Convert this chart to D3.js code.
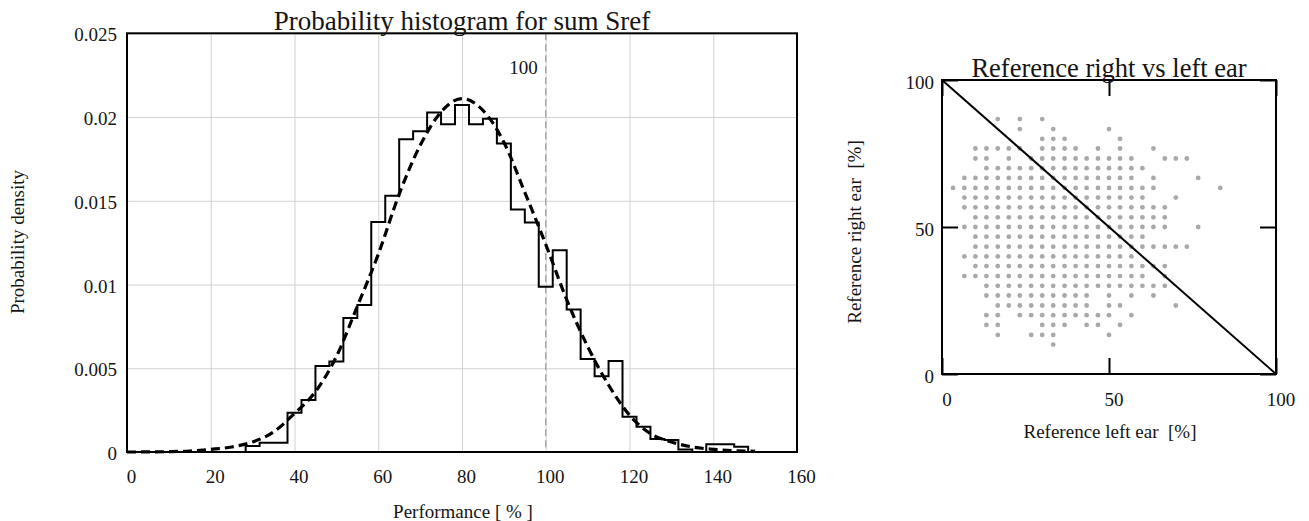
<!DOCTYPE html>
<html>
<head>
<meta charset="utf-8">
<script src="https://cdn.jsdelivr.net/npm/d3@7"></script>
<style>
  html, body { margin: 0; padding: 0; background: #fff; }
  svg { display: block; }
  text { font-family: "Liberation Serif", "Times New Roman", serif; fill: #151515; white-space: pre; }
</style>
</head>
<body>
<svg id="chart" width="1309" height="521"></svg>
<script>
// ---- Histogram of the summed reference score ----
const binWidth = 3.333;
const binStart = [28.33, 31.67, 35, 38.33, 41.67, 45, 48.33, 51.67, 55, 58.33,
  61.67, 65, 68.33, 71.67, 75, 78.33, 81.67, 85, 88.33, 91.67,
  95, 98.33, 101.67, 105, 108.33, 111.67, 115, 118.33, 121.67, 125,
  128.33, 131.67, 135, 138.33, 141.67, 145];
const binDensity = [0.00036, 0.00055, 0.00055, 0.00235, 0.0031, 0.00513, 0.0054, 0.0080, 0.00877, 0.01374,
  0.0153, 0.01868, 0.01915, 0.02027, 0.01957, 0.02072, 0.01957, 0.0199, 0.01842, 0.01448,
  0.0137, 0.00986, 0.01205, 0.00851, 0.00555, 0.00453, 0.00543, 0.0021, 0.00151, 0.00078,
  0.00072, 0.00015, 0, 0.00046, 0.00046, 0.00032];

// fitted density (dashed curve)
const fitX = [0, 5, 10, 15, 20, 25, 30, 35, 40, 45, 50, 55, 60, 65, 70, 75, 80,
  85, 90, 95, 100, 105, 110, 115, 120, 125, 130, 135, 140, 145, 150];
const fitY = [0, 0.000005, 0.00002, 0.00006, 0.00016, 0.0003, 0.0006, 0.0012, 0.0023, 0.0036, 0.0057,
  0.0087, 0.0118, 0.0154, 0.0183, 0.0203, 0.0211, 0.0204, 0.0185, 0.0155, 0.0124,
  0.0091, 0.0063, 0.0040, 0.0022, 0.0011, 0.0006, 0.0003, 0.00016, 0.00008, 0.00004];

const histXTicks = [0, 20, 40, 60, 80, 100, 120, 140, 160];
const histYTicks = [0, 0.005, 0.01, 0.015, 0.02, 0.025];
const histYLabels = ["0", "0.005", "0.01", "0.015", "0.02", "0.025"];
const markerValue = 100;

// ---- Reference right ear vs left ear (one row per right-ear level) ----
const rightEarLevels = [86.7, 83.3, 80, 76.7, 73.3, 70, 66.7, 63.3, 60, 56.7, 53.3, 50,
  46.7, 43.3, 40, 36.7, 33.3, 30, 26.7, 23.3, 20, 16.7, 13.3, 10];
const leftEarByLevel = [
  [16.7, 23.3, 30],
  [23.3, 33.3, 50],
  [30, 33.3, 36.7, 53.3],
  [10, 13.3, 16.7, 20, 23.3, 30, 33.3, 36.7, 40, 46.7, 53.3, 63.3],
  [10, 13.3, 20, 26.7, 30, 33.3, 36.7, 40, 43.3, 46.7, 50, 53.3, 56.7, 66.7, 70, 73.3],
  [13.3, 16.7, 20, 23.3, 26.7, 30, 33.3, 36.7, 40, 43.3, 46.7, 50, 53.3, 56.7, 60],
  [6.7, 10, 13.3, 16.7, 20, 23.3, 26.7, 30, 33.3, 36.7, 40, 43.3, 46.7, 50, 53.3, 56.7, 63.3, 76.7],
  [3.3, 6.7, 10, 13.3, 16.7, 20, 23.3, 26.7, 30, 33.3, 36.7, 40, 43.3, 46.7, 50, 53.3, 56.7, 60, 63.3, 83.3],
  [6.7, 10, 13.3, 16.7, 20, 23.3, 26.7, 30, 33.3, 36.7, 40, 43.3, 46.7, 50, 53.3, 56.7, 60, 70],
  [6.7, 10, 13.3, 16.7, 20, 23.3, 26.7, 30, 33.3, 36.7, 40, 43.3, 46.7, 50, 53.3, 56.7, 60, 63.3, 66.7],
  [10, 13.3, 16.7, 20, 23.3, 26.7, 30, 33.3, 36.7, 40, 43.3, 46.7, 50, 53.3, 56.7, 60, 63.3, 66.7],
  [6.7, 10, 13.3, 16.7, 20, 23.3, 26.7, 30, 33.3, 36.7, 40, 43.3, 46.7, 50, 53.3, 56.7, 60, 63.3, 66.7, 76.7],
  [10, 13.3, 16.7, 20, 23.3, 26.7, 30, 33.3, 36.7, 40, 43.3, 46.7, 50, 53.3, 56.7, 60],
  [10, 13.3, 16.7, 20, 23.3, 26.7, 30, 33.3, 36.7, 40, 43.3, 46.7, 50, 53.3, 56.7, 60, 63.3, 66.7, 70, 73.3],
  [6.7, 10, 13.3, 16.7, 20, 23.3, 26.7, 30, 33.3, 36.7, 40, 43.3, 46.7, 50, 53.3, 56.7],
  [10, 13.3, 16.7, 20, 23.3, 26.7, 30, 33.3, 36.7, 40, 43.3, 46.7, 50, 53.3, 56.7, 60, 63.3, 66.7],
  [6.7, 10, 13.3, 16.7, 20, 23.3, 26.7, 30, 33.3, 36.7, 40, 43.3, 46.7, 50, 53.3, 56.7, 60, 66.7],
  [13.3, 16.7, 20, 23.3, 26.7, 30, 33.3, 36.7, 40, 43.3, 46.7, 50, 53.3, 56.7, 60, 63.3, 66.7],
  [13.3, 16.7, 20, 23.3, 26.7, 30, 33.3, 36.7, 40, 43.3, 50, 56.7, 63.3],
  [16.7, 20, 23.3, 26.7, 30, 33.3, 36.7, 40, 43.3, 50, 53.3, 70],
  [13.3, 16.7, 23.3, 26.7, 30, 33.3, 36.7, 40, 43.3, 46.7, 50, 56.7],
  [13.3, 16.7, 30, 33.3, 36.7, 43.3, 46.7, 53.3],
  [16.7, 26.7, 30, 33.3, 50],
  [33.3]
];
const earTicks = [0, 50, 100];
const diagonalLeft = [0, 100];
const diagonalRight = [100, 0];

const svg = d3.select("#chart");
svg.append("rect").attr("width", 1309).attr("height", 521).attr("fill", "#fff");

// ================= Left panel: histogram =================
const hx = d3.scaleLinear().domain([0, 160]).range([127, 797]);
const hy = d3.scaleLinear().domain([0, 0.025]).range([452, 33.3]);
const left = svg.append("g");

// grid
left.append("g")
  .attr("transform", `translate(0,${hy(0)})`)
  .call(d3.axisBottom(hx).tickValues(histXTicks).tickSize(-(hy(0) - hy(0.025))).tickFormat(""))
  .call(g => g.select(".domain").remove())
  .call(g => g.selectAll("line").attr("stroke", "#d2d2d2").attr("stroke-width", 1));
left.append("g")
  .attr("transform", `translate(${hx(0)},0)`)
  .call(d3.axisLeft(hy).tickValues(histYTicks).tickSize(-(hx(160) - hx(0))).tickFormat(""))
  .call(g => g.select(".domain").remove())
  .call(g => g.selectAll("line").attr("stroke", "#d2d2d2").attr("stroke-width", 1));

// marker line at 100 %
left.append("line")
  .attr("x1", hx(markerValue)).attr("x2", hx(markerValue))
  .attr("y1", hy(0.025)).attr("y2", hy(0))
  .attr("stroke", "#9a9a9a").attr("stroke-width", 1.2).attr("stroke-dasharray", "7,4");
left.append("text")
  .attr("x", hx(markerValue) - 8).attr("y", 74)
  .attr("text-anchor", "end").attr("font-size", 19)
  .text(String(markerValue));

// histogram as a step outline
const stepPts = [[0, 0]];
binStart.forEach((s, i) => stepPts.push([s, binDensity[i]]));
stepPts.push([binStart[binStart.length - 1] + binWidth, 0]);
left.append("path")
  .attr("d", d3.line().x(d => hx(d[0])).y(d => hy(d[1])).curve(d3.curveStepAfter)(stepPts))
  .attr("fill", "none").attr("stroke", "#000").attr("stroke-width", 2);

// fitted density
left.append("path")
  .attr("d", d3.line().x((d, i) => hx(fitX[i])).y(d => hy(d)).curve(d3.curveMonotoneX)(fitY))
  .attr("fill", "none").attr("stroke", "#000").attr("stroke-width", 3.2)
  .attr("stroke-dasharray", "9,5");

// frame
left.append("rect")
  .attr("x", hx(0)).attr("y", hy(0.025))
  .attr("width", hx(160) - hx(0)).attr("height", hy(0) - hy(0.025))
  .attr("fill", "none").attr("stroke", "#000").attr("stroke-width", 2);

// tick labels
left.append("g")
  .attr("transform", `translate(4,${hy(0)})`)
  .call(d3.axisBottom(hx).tickValues(histXTicks).tickSize(0).tickPadding(18))
  .call(g => g.select(".domain").remove())
  .call(g => g.selectAll("text").attr("font-size", 19).style("font-family", "Liberation Serif").attr("fill", "#151515"));
left.append("g")
  .attr("transform", `translate(${hx(0)},1.5)`)
  .call(d3.axisLeft(hy).tickValues(histYTicks).tickSize(0).tickPadding(10)
    .tickFormat((d, i) => histYLabels[i]))
  .call(g => g.select(".domain").remove())
  .call(g => g.selectAll("text").attr("font-size", 19).style("font-family", "Liberation Serif").attr("fill", "#151515"));

left.append("text")
  .attr("x", (hx(0) + hx(160)) / 2).attr("y", 30)
  .attr("text-anchor", "middle").attr("font-size", 27)
  .text("Probability histogram for sum Sref");
left.append("text")
  .attr("x", 463).attr("y", 518)
  .attr("text-anchor", "middle").attr("font-size", 19)
  .text("Performance [ % ]");
left.append("text")
  .attr("transform", "translate(24,242) rotate(-90)")
  .attr("text-anchor", "middle").attr("font-size", 19)
  .text("Probability density");

// ================= Right panel: scatter =================
const sx = d3.scaleLinear().domain([0, 100]).range([942, 1276]);
const sy = d3.scaleLinear().domain([0, 100]).range([374, 80]);
const right = svg.append("g");

const earPoints = [];
rightEarLevels.forEach((r, i) => leftEarByLevel[i].forEach(l => earPoints.push([l, r])));
right.append("g").selectAll("circle")
  .data(earPoints).join("circle")
  .attr("cx", d => sx(d[0])).attr("cy", d => sy(d[1]))
  .attr("r", 2.4).attr("fill", "#a9a9a9");

right.append("line")
  .attr("x1", sx(diagonalLeft[0])).attr("y1", sy(diagonalLeft[1]))
  .attr("x2", sx(diagonalRight[0])).attr("y2", sy(diagonalRight[1]))
  .attr("stroke", "#000").attr("stroke-width", 2);

// inward ticks on all four sides
const tickStyle = g => {
  g.select(".domain").remove();
  g.selectAll("line").attr("stroke", "#000").attr("stroke-width", 2);
  g.selectAll("text").attr("font-size", 19).style("font-family", "Liberation Serif").attr("fill", "#151515");
};
right.append("g").attr("transform", `translate(4.5,${sy(0)})`)
  .call(d3.axisBottom(sx).tickValues(earTicks).tickSize(0).tickPadding(19)).call(tickStyle);
right.append("g").attr("transform", `translate(0,${sy(0)})`)
  .call(d3.axisBottom(sx).tickValues(earTicks).tickSize(-16).tickFormat("")).call(tickStyle);
right.append("g").attr("transform", `translate(0,${sy(100)})`)
  .call(d3.axisTop(sx).tickValues(earTicks).tickSize(-16).tickFormat("")).call(tickStyle);
right.append("g").attr("transform", `translate(${sx(0)},2.5)`)
  .call(d3.axisLeft(sy).tickValues(earTicks).tickSize(0).tickPadding(8)).call(tickStyle);
right.append("g").attr("transform", `translate(${sx(0)},0)`)
  .call(d3.axisLeft(sy).tickValues(earTicks).tickSize(-16).tickFormat("")).call(tickStyle);
right.append("g").attr("transform", `translate(${sx(100)},0)`)
  .call(d3.axisRight(sy).tickValues(earTicks).tickSize(-16).tickFormat("")).call(tickStyle);

right.append("rect")
  .attr("x", sx(0)).attr("y", sy(100))
  .attr("width", sx(100) - sx(0)).attr("height", sy(0) - sy(100))
  .attr("fill", "none").attr("stroke", "#000").attr("stroke-width", 2);

right.append("text")
  .attr("x", (sx(0) + sx(100)) / 2).attr("y", 77)
  .attr("text-anchor", "middle").attr("font-size", 26.5)
  .text("Reference right vs left ear");
right.append("text")
  .attr("x", 1110).attr("y", 438)
  .attr("text-anchor", "middle").attr("font-size", 19)
  .text("Reference left ear  [%]");
right.append("text")
  .attr("transform", "translate(861,232) rotate(-90)")
  .attr("text-anchor", "middle").attr("font-size", 19)
  .text("Reference right ear  [%]");
</script>
</body>
</html>
